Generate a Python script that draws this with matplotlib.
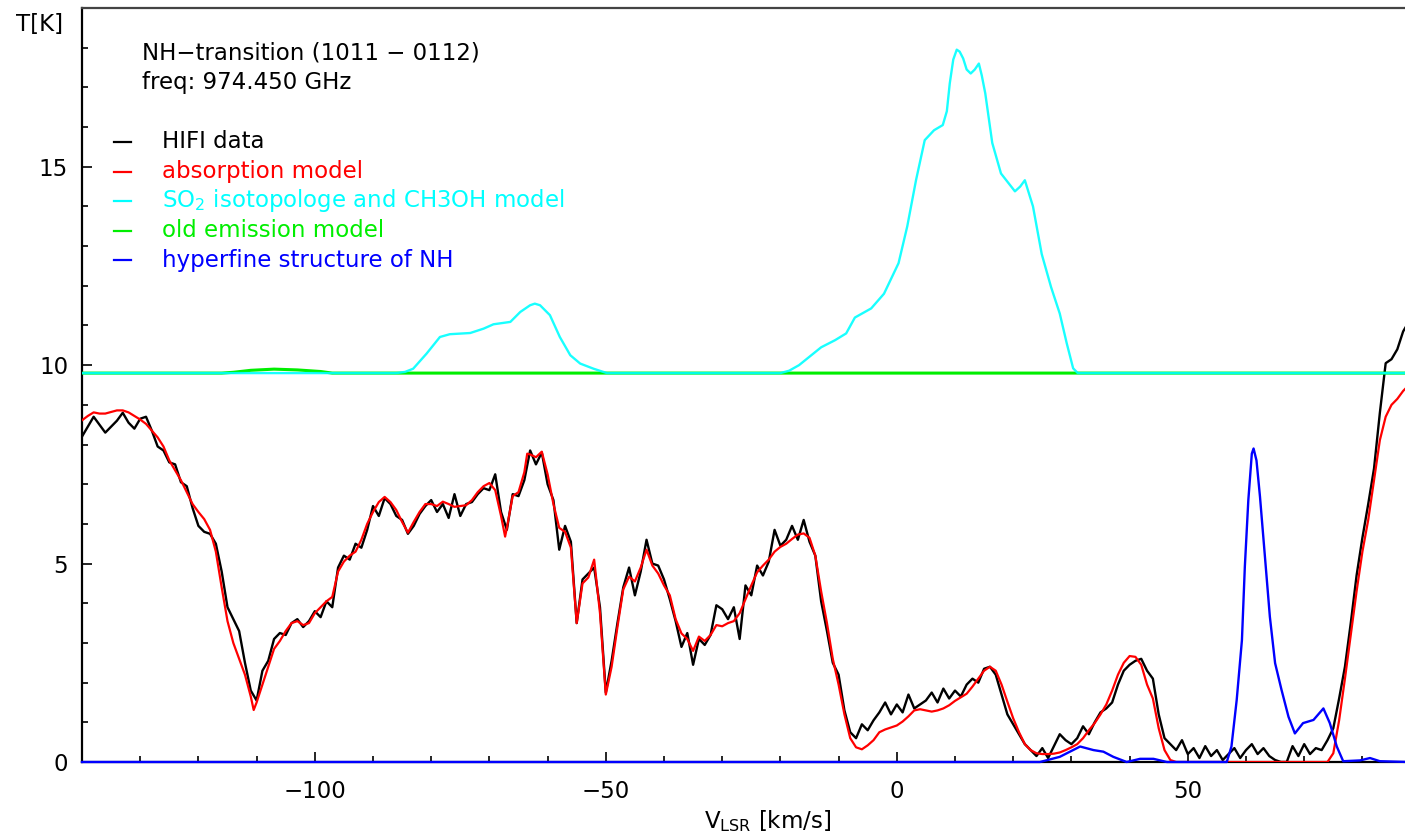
import numpy as np
import matplotlib
matplotlib.use('Agg')
import matplotlib.pyplot as plt
from matplotlib.ticker import MultipleLocator
from matplotlib.lines import Line2D

# HIFI spectrum, sampled every 1 km/s from -140 to 88 km/s
v_data = np.arange(-140, 89, 1.0)
t_data = [8.2, 8.45, 8.7, 8.5, 8.3, 8.45, 8.6, 8.8, 8.55, 8.4,
          8.65, 8.7, 8.35, 7.95, 7.85, 7.55, 7.5, 7.05, 6.95, 6.4,
          5.95, 5.8, 5.75, 5.5, 4.8, 3.9, 3.6, 3.3, 2.5, 1.8,
          1.55, 2.3, 2.55, 3.1, 3.25, 3.2, 3.5, 3.6, 3.4, 3.55,
          3.8, 3.65, 4.05, 3.9, 4.9, 5.2, 5.1, 5.5, 5.4, 5.85,
          6.45, 6.2, 6.65, 6.5, 6.2, 6.1, 5.75, 5.95, 6.25, 6.45,
          6.6, 6.3, 6.5, 6.15, 6.75, 6.2, 6.5, 6.55, 6.75, 6.9,
          6.85, 7.25, 6.3, 5.85, 6.75, 6.7, 7.1, 7.85, 7.5, 7.8,
          7.0, 6.6, 5.35, 5.95, 5.55, 3.5, 4.6, 4.75, 4.9, 3.9,
          1.75, 2.55, 3.5, 4.4, 4.9, 4.2, 4.8, 5.6, 5.0, 4.95,
          4.6, 4.1, 3.55, 2.9, 3.25, 2.45, 3.1, 2.95, 3.2, 3.95,
          3.85, 3.6, 3.9, 3.1, 4.45, 4.2, 4.95, 4.7, 5.05, 5.85,
          5.45, 5.6, 5.95, 5.6, 6.1, 5.55, 5.2, 4.05, 3.3, 2.5,
          2.2, 1.3, 0.75, 0.6, 0.95, 0.8, 1.05, 1.25, 1.5, 1.2,
          1.45, 1.25, 1.7, 1.35, 1.45, 1.55, 1.75, 1.5, 1.85, 1.6,
          1.8, 1.65, 1.95, 2.1, 2.0, 2.35, 2.4, 2.2, 1.7, 1.2,
          0.95, 0.7, 0.45, 0.3, 0.15, 0.35, 0.1, 0.4, 0.7, 0.55,
          0.45, 0.6, 0.9, 0.7, 1.0, 1.25, 1.35, 1.5, 1.95, 2.3,
          2.45, 2.55, 2.6, 2.3, 2.1, 1.2, 0.6, 0.45, 0.3, 0.55,
          0.2, 0.35, 0.1, 0.4, 0.15, 0.3, 0.05, 0.2, 0.35, 0.1,
          0.3, 0.45, 0.2, 0.35, 0.15, 0.05, 0.0, 0.0, 0.4, 0.15,
          0.45, 0.2, 0.35, 0.3, 0.55, 0.85, 1.6, 2.4, 3.5, 4.7,
          5.65, 6.5, 7.4, 8.8, 10.05, 10.15, 10.4, 10.85, 11.1]

# absorption model
v_abs = [-140, -139, -138, -137, -136, -135, -134, -133, -132, -131,
         -130, -129, -128, -127, -126, -125, -124, -123, -122, -121,
         -120, -119, -118, -117, -116, -115, -114, -113, -112, -111,
         -110.5, -110, -109, -108, -107, -106, -105, -104, -103, -102,
         -101, -100, -99, -98, -97, -96, -95, -94, -93, -92,
         -91, -90, -89, -88, -87, -86, -85, -84, -83, -82,
         -81, -80, -79, -78, -77, -76, -75, -74, -73, -72,
         -71, -70, -69, -68, -67.3, -67, -66, -65, -64, -63.5,
         -63, -62, -61, -60, -59, -58, -57, -56, -55, -54,
         -53, -52, -51, -50, -49, -48, -47, -46, -45, -44,
         -43, -42, -41, -40, -39, -38, -37, -36, -35, -34,
         -33, -32, -31, -30, -29, -28, -27, -26, -25, -24,
         -23, -22, -21, -20, -19, -18, -17, -16, -15, -14,
         -13, -12, -11, -10, -9, -8, -7, -6, -5, -4,
         -3, -2, -1, 0, 1, 2, 3, 4, 5, 6,
         7, 8, 9, 10, 11, 12, 13, 14, 15, 16,
         17, 18, 19, 20, 21, 22, 23, 24, 25, 26,
         27, 28, 29, 30, 31, 32, 33, 34, 35, 36,
         37, 38, 39, 40, 41, 42, 43, 44, 45, 46,
         47, 48, 74, 75, 76, 77, 78, 79, 80, 81,
         82, 83, 84, 85, 86, 87, 88]
t_abs = [8.61, 8.72, 8.81, 8.78, 8.78, 8.82, 8.86, 8.86, 8.81, 8.72,
         8.63, 8.52, 8.35, 8.18, 7.95, 7.6, 7.35, 7.1, 6.8, 6.5,
         6.3, 6.12, 5.85, 5.3, 4.4, 3.55, 3.0, 2.6, 2.2, 1.65,
         1.31, 1.5, 1.95, 2.4, 2.85, 3.05, 3.3, 3.5, 3.55, 3.45,
         3.5, 3.75, 3.9, 4.05, 4.16, 4.8, 5.05, 5.2, 5.3, 5.6,
         6.0, 6.3, 6.55, 6.68, 6.55, 6.35, 6.05, 5.78, 6.05, 6.3,
         6.5, 6.5, 6.45, 6.56, 6.5, 6.43, 6.45, 6.47, 6.6, 6.8,
         6.95, 7.03, 6.85, 6.2, 5.68, 5.9, 6.7, 6.8, 7.3, 7.77,
         7.75, 7.68, 7.82, 7.25, 6.5, 5.9, 5.8, 5.4, 3.5, 4.5,
         4.65, 5.1, 3.75, 1.7, 2.4, 3.4, 4.35, 4.67, 4.55, 4.9,
         5.35, 4.95, 4.75, 4.45, 4.2, 3.6, 3.24, 3.1, 2.8, 3.16,
         3.05, 3.2, 3.45, 3.42, 3.5, 3.55, 3.75, 4.1, 4.45, 4.78,
         4.95, 5.1, 5.3, 5.42, 5.5, 5.62, 5.73, 5.76, 5.65, 5.2,
         4.3, 3.5, 2.6, 1.95, 1.2, 0.6, 0.37, 0.32, 0.42, 0.55,
         0.75, 0.82, 0.87, 0.92, 1.02, 1.15, 1.3, 1.33, 1.3, 1.27,
         1.3, 1.35, 1.43, 1.54, 1.63, 1.72, 1.9, 2.1, 2.3, 2.4,
         2.3, 1.95, 1.52, 1.1, 0.75, 0.45, 0.3, 0.22, 0.2, 0.2,
         0.21, 0.24, 0.3, 0.37, 0.45, 0.6, 0.8, 0.98, 1.2, 1.45,
         1.8, 2.2, 2.5, 2.67, 2.65, 2.45, 1.95, 1.6, 0.85, 0.3,
         0.05, 0.0, 0.0, 0.22, 1.05, 2.1, 3.2, 4.3, 5.3, 6.1,
         7.1, 8.11, 8.7, 9.0, 9.15, 9.35, 9.5]

# SO2 isotopologue + CH3OH model (offset baseline 9.8 K)
v_so2 = [-140, -86, -84.5, -83.1, -80.8, -78.5, -76.8, -73.3, -71.0, -69.3,
         -66.4, -64.7, -63.0, -62.2, -61.3, -59.6, -57.9, -56.1, -54.4, -52.1,
         -49.8, -20, -18.5, -16.8, -13.0, -10.6, -8.7, -7.2, -4.4, -2.2,
         0.3, 1.8, 3.3, 4.8, 6.4, 7.9, 8.6, 9.1, 9.7, 10.3,
         10.8, 11.4, 12.0, 12.7, 13.4, 14.1, 14.6, 15.2, 16.4, 17.9,
         20.3, 21.2, 22.0, 23.4, 24.9, 26.5, 28.0, 29.2, 30.3, 31.1,
         88]
t_so2 = [9.8, 9.8, 9.83, 9.91, 10.29, 10.71, 10.78, 10.81, 10.92, 11.03,
         11.09, 11.34, 11.51, 11.55, 11.51, 11.26, 10.71, 10.25, 10.04, 9.91,
         9.8, 9.8, 9.86, 10.0, 10.45, 10.63, 10.8, 11.2, 11.43, 11.8,
         12.57, 13.5, 14.66, 15.67, 15.92, 16.05, 16.4, 17.1, 17.7, 17.95,
         17.9, 17.73, 17.45, 17.35, 17.45, 17.6, 17.3, 16.85, 15.6, 14.83,
         14.38, 14.5, 14.66, 14.0, 12.8, 11.97, 11.3, 10.55, 9.92, 9.8,
         9.8]

# old emission model (same offset)
v_emis = [-140, -116, -114, -111, -107, -103, -99, -97, 88]
t_emis = [9.8, 9.8, 9.82, 9.87, 9.9, 9.88, 9.84, 9.8, 9.8]

# NH hyperfine structure
v_hfs = [-140, 24.6, 28.0, 31.5, 33.8, 35.5, 37.2, 39.5, 41.8, 44.1,
         46.4, 56.7, 57.5, 58.4, 59.3, 59.8, 60.4, 61.0, 61.3, 61.8,
         62.4, 63.3, 64.1, 65.0, 66.1, 67.3, 68.4, 69.8, 71.6, 73.3,
         74.4, 75.6, 76.7, 79.6, 81.3, 83.0, 88]
t_hfs = [0.0, 0.0, 0.13, 0.39, 0.3, 0.26, 0.13, 0.0, 0.08, 0.08,
         0.0, 0.0, 0.39, 1.56, 3.07, 4.92, 6.6, 7.77, 7.9, 7.6,
         6.69, 5.09, 3.66, 2.49, 1.82, 1.14, 0.72, 0.98, 1.06, 1.35,
         0.98, 0.39, 0.02, 0.04, 0.1, 0.02, 0.0]

title_lines = ['NH\u2212transition (1011 \u2212 0112)', 'freq: 974.450 GHz']
legend_labels = ['HIFI data', 'absorption model',
                 'SO$_2$ isotopologe and CH3OH model',
                 'old emission model', 'hyperfine structure of NH']
legend_colors = ['black', 'red', 'cyan', '#00ee00', 'blue']

FS = 16.5
W, H = 1405, 839
fig = plt.figure(figsize=(W / 100, H / 100), dpi=100)
ax = fig.add_axes([82 / W, 1 - 762 / H, (W - 82) / W, (762 - 8) / H])

ax.plot(v_data, t_data, color='black', lw=1.7, zorder=2)
ax.plot(v_abs, t_abs, color='red', lw=1.6, zorder=3)
ax.plot(v_emis, t_emis, color='#00ee00', lw=2.2, zorder=4)
ax.plot(v_so2, t_so2, color='cyan', lw=1.7, zorder=5, alpha=0.9)
ax.plot(v_hfs, t_hfs, color='blue', lw=1.7, zorder=6, clip_on=False)

ax.set_xlim(-140, -140 + (W - 82) / 5.82)
ax.set_ylim(0, 19)

ax.spines['right'].set_visible(False)
ax.spines['top'].set_color('#444444')
for s in ['left', 'bottom', 'top']:
    ax.spines[s].set_linewidth(1.6)

ax.xaxis.set_major_locator(MultipleLocator(50))
ax.xaxis.set_minor_locator(MultipleLocator(10))
ax.yaxis.set_major_locator(MultipleLocator(5))
ax.yaxis.set_minor_locator(MultipleLocator(1))
ax.tick_params(which='both', direction='in', top=False, right=False,
               labelsize=FS, width=1.2)
ax.tick_params(which='major', length=7)
ax.tick_params(which='minor', length=4)
ax.tick_params(axis='x', pad=13)
ax.tick_params(axis='y', pad=10)

fig.text(16 / W, 1 - 25 / H, 'T[K]', fontsize=FS, va='center', ha='left')
fig.text(768 / W, 1 - 821 / H, r'V$_{\mathrm{LSR}}$ [km/s]', fontsize=FS,
         va='center', ha='center')

# header and colour-coded legend
for i, line in enumerate(title_lines):
    fig.text(142 / W, 1 - (53 + 29 * i) / H, line, fontsize=FS,
             va='center', ha='left')
for i, (lab, col) in enumerate(zip(legend_labels, legend_colors)):
    y = 1 - (142 + 29.5 * i) / H
    fig.add_artist(Line2D([114 / W, 131 / W], [y, y], color=col, lw=1.6,
                          transform=fig.transFigure))
    fig.text(162 / W, y, lab, fontsize=FS, color=col, va='center', ha='left')

fig.savefig('out.png', dpi=100)
